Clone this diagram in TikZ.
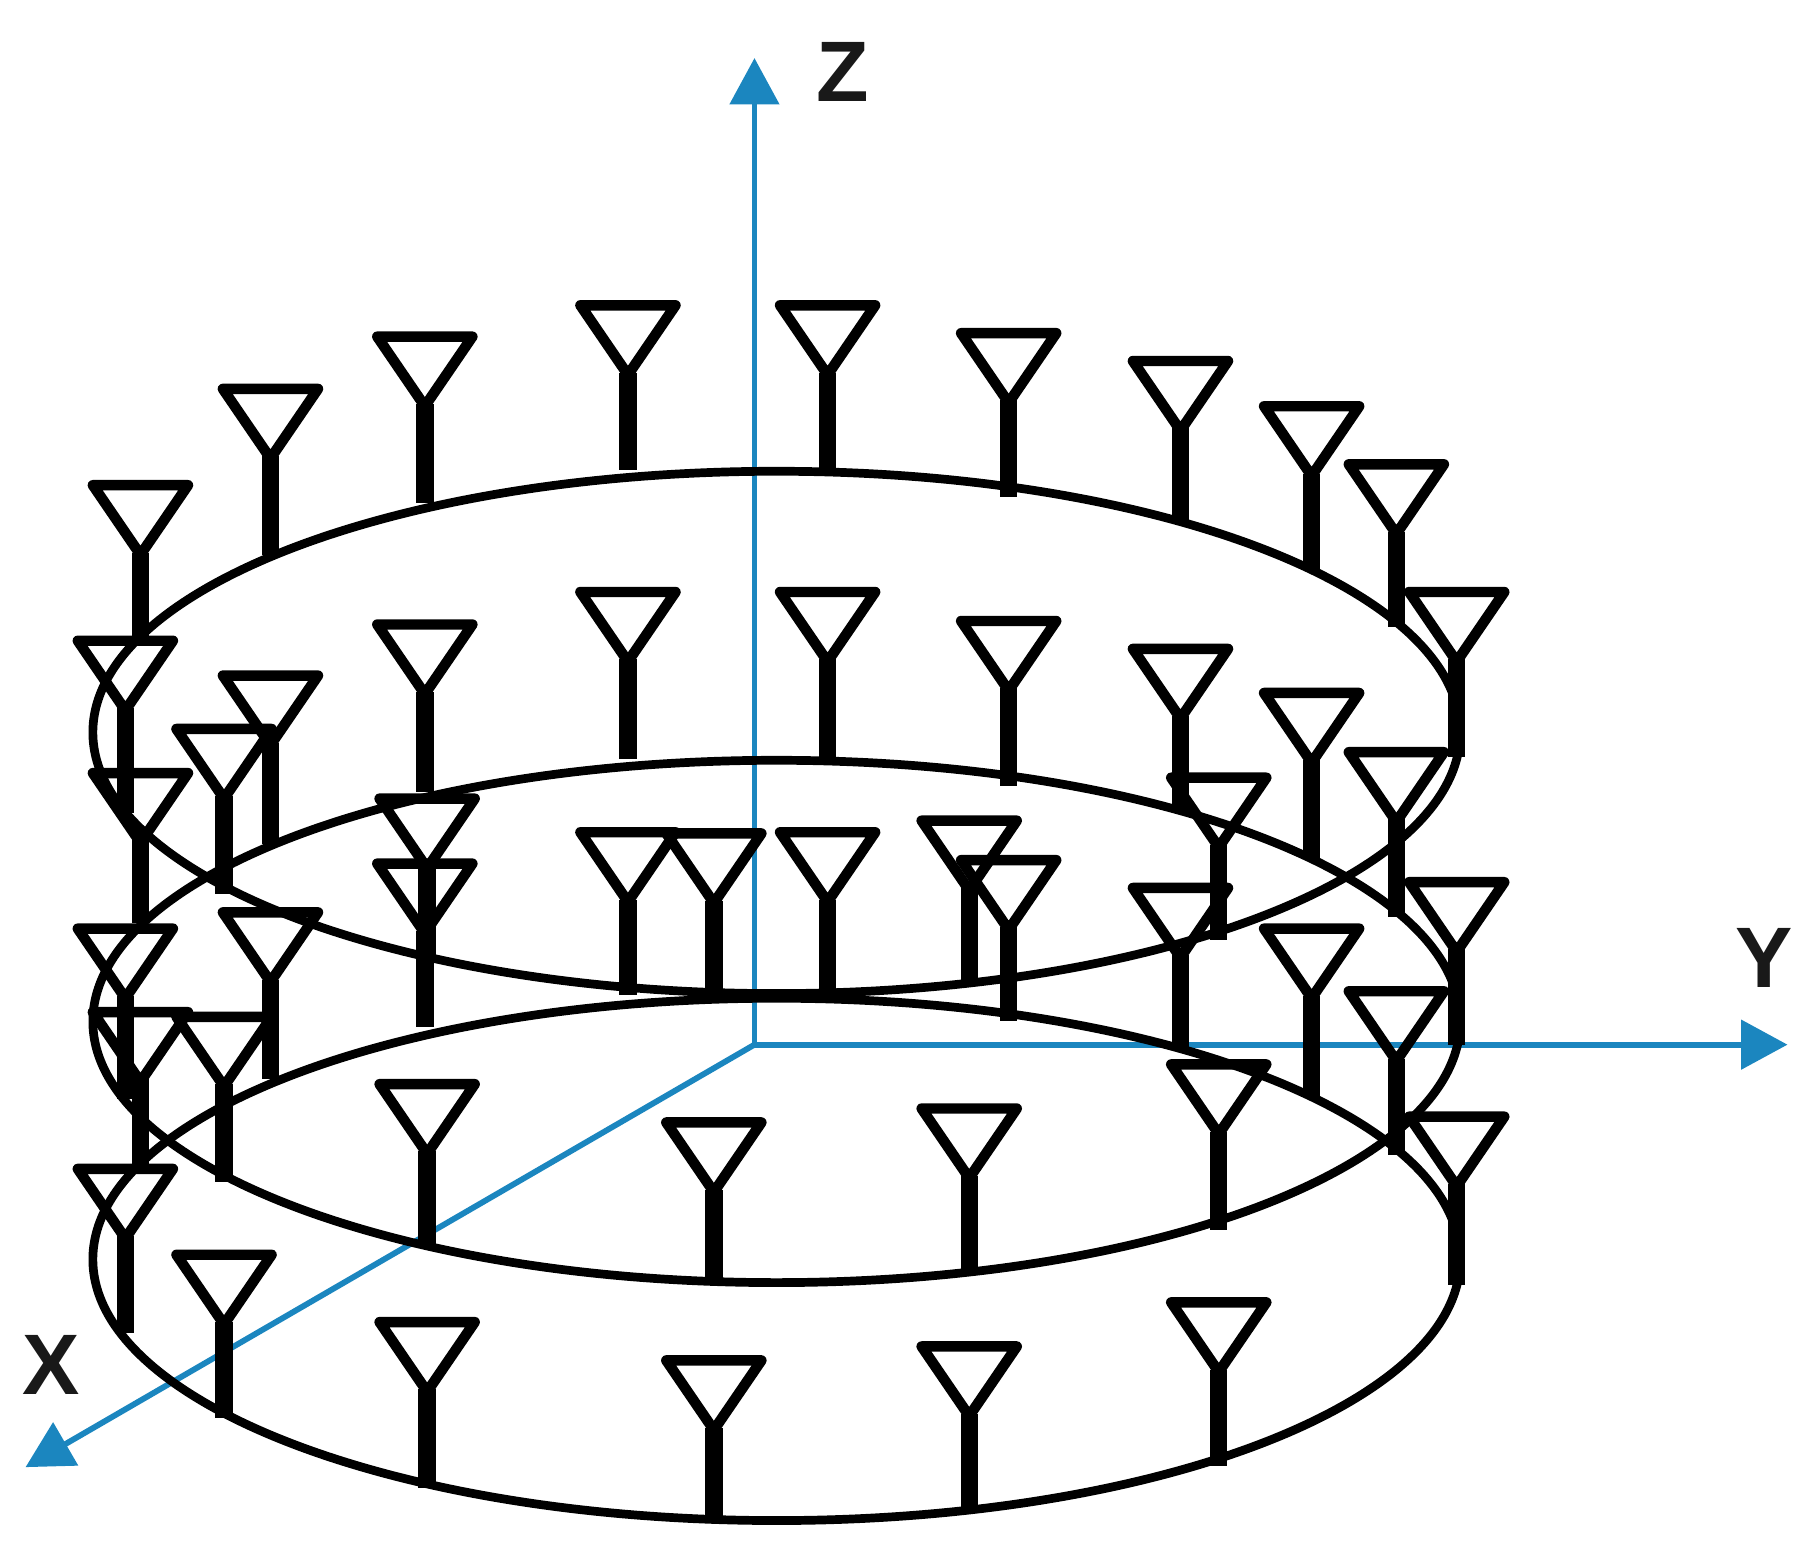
\documentclass[tikz,border=0pt]{standalone}
\usepackage{fontspec}
\setmainfont{Liberation Sans}
\usetikzlibrary{arrows.meta}
\definecolor{axisblue}{HTML}{1B86BF}
\tikzset{
  axisline/.style={draw=axisblue,line width=5pt,-{Triangle[length=40pt,width=42pt,fill=axisblue]}},
  axislabel/.style={font=\fontsize{74}{74}\selectfont\bfseries,text=black!90,inner sep=0pt},
  ring/.style={draw=black,line width=7.5pt},
  horn/.style={draw=black,line width=9pt,line join=round},
  stem/.style={draw=black,line width=15pt}
}
\newcommand{\antenna}[3]{%
  \draw[stem] (#1,#2+58) -- (#1,#3);
  \draw[horn] (#1-41,#2) -- (#1+41,#2) -- (#1,#2+60) -- cycle;
}
\begin{document}
\begin{tikzpicture}[x=1pt,y=-1pt]
\useasboundingbox (0,0) rectangle (1568,1342.3);
\coordinate (O) at (650,900);
\coordinate (ZE) at (650,50);
\coordinate (YE) at (1540,900);
\coordinate (XE) at (22,1264);
\draw[axisline] (O) -- (ZE);
\draw[axisline] (O) -- (YE);
\draw[axisline] (O) -- (XE);
\node[axislabel] (zl) at (726,62) {Z};
\node[axislabel] (yl) at (1520,825) {Y};
\node[axislabel] (xl) at (44,1176) {X};
\draw[ring] (669,631) ellipse [x radius=589pt,y radius=225pt];
\draw[ring] (669,880) ellipse [x radius=589pt,y radius=225pt];
\draw[ring] (669,1085) ellipse [x radius=589pt,y radius=225pt];
% upper ring
\foreach \x/\t/\e in {121/418/548,233/335/478,366/290/433,541/263/405,713/263/405,869/287/428,1017/311/450,1130/350/490,1203/400/540,1255/510/652,108/552/700,
  193/628/770,368/688/828,615/718/855,835/707/848,1050/670/810}{\antenna{\x}{\t}{\e}}
% middle ring
\foreach \x/\t/\e in {121/666/795,233/582/727,366/538/682,541/510/654,713/510/654,869/535/677,1017/559/699,1130/597/739,1203/648/790,1255/760/900,108/800/947,
  193/876/1018,368/934/1075,615/967/1107,835/955/1095,1050/917/1060}{\antenna{\x}{\t}{\e}}
% lower ring
\foreach \x/\t/\e in {121/872/1003,233/786/930,366/744/885,541/717/857,713/717/857,869/741/880,1017/765/905,1130/800/945,1203/854/995,1255/962/1107,108/1007/1148,
  193/1081/1222,368/1139/1282,615/1172/1308,835/1160/1302,1050/1122/1263}{\antenna{\x}{\t}{\e}}
\end{tikzpicture}
\end{document}
